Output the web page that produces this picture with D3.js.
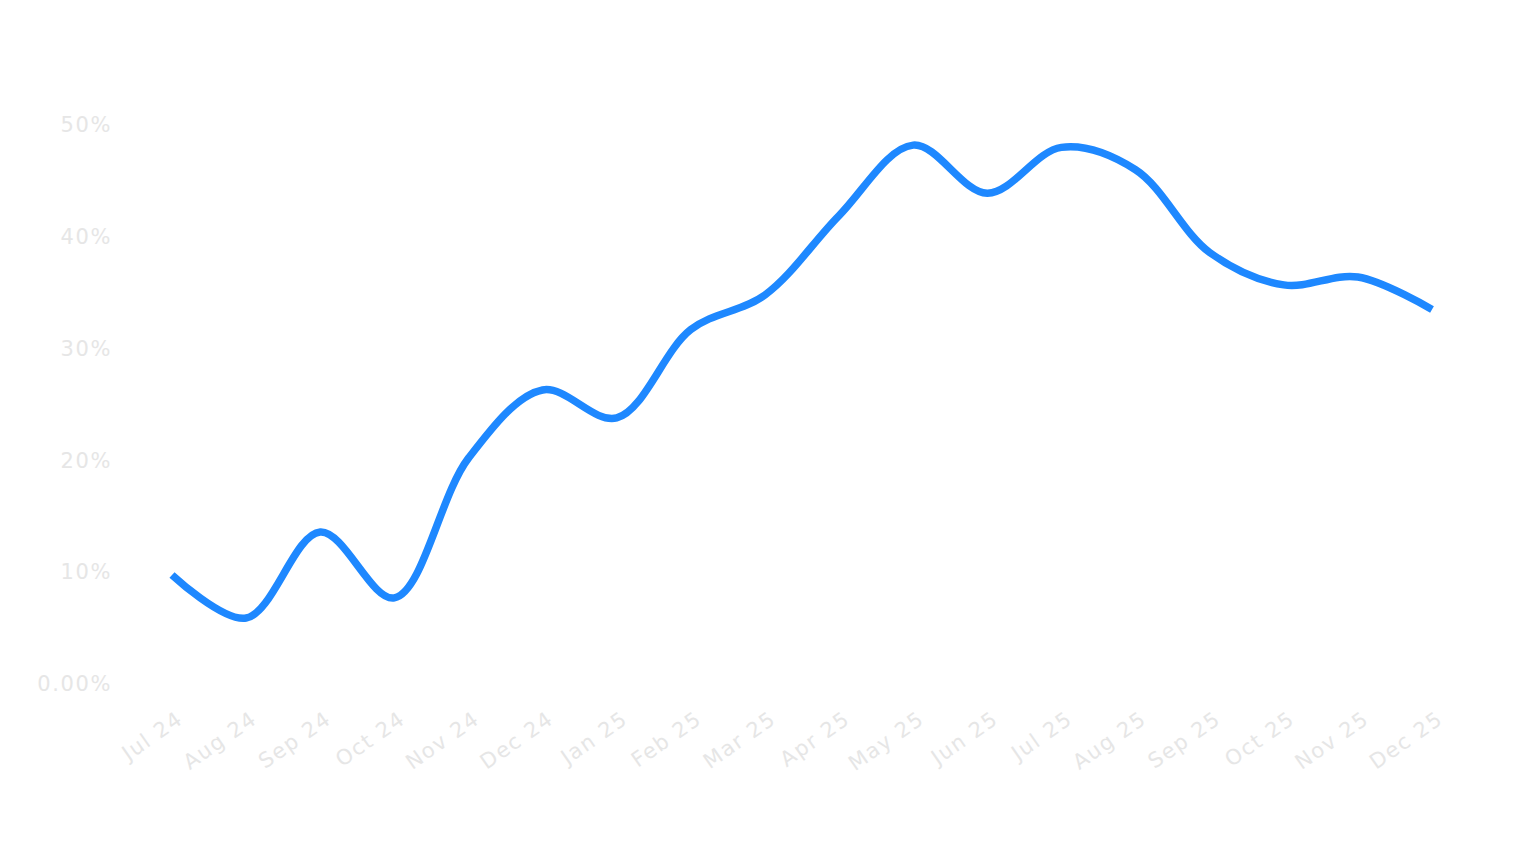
<!DOCTYPE html>
<html>
<head>
<meta charset="utf-8">
<script src="https://cdn.jsdelivr.net/npm/d3@7"></script>
<style>
	html, body { margin: 0; padding: 0; background: #fff; }
	svg { display: block; }
	.tick text { font-family: "DejaVu Sans", sans-serif; letter-spacing: 1.6px; }
</style>
</head>
<body>
<svg id="chart" width="1536" height="864"></svg>
<script>
(function(d3){
	const months = ["Jul 24","Aug 24","Sep 24","Oct 24","Nov 24","Dec 24","Jan 25","Feb 25","Mar 25",
		"Apr 25","May 25","Jun 25","Jul 25","Aug 25","Sep 25","Oct 25","Nov 25","Dec 25"];
	const values = [9.75, 5.9, 13.6, 7.7, 20.2, 26.3, 23.8, 31.7, 34.8,
		41.9, 48.2, 43.9, 48.0, 46.0, 38.6, 35.7, 36.4, 33.5];
	const yTicks = [0, 10, 20, 30, 40, 50];

	const labelColor = "#e6e6e6";
	let svg = d3.select("#chart");

	var x = d3.scalePoint()
		.domain(months)
		.range([172, 1432]);

	var y = d3.scaleLinear()
		.domain([0, 50])
		.range([684, 125]);

	// y axis, labels only
	var yAxis = svg.append("g")
		.attr("transform", "translate(112,0)")
		.call(d3.axisLeft(y)
			.tickValues(yTicks)
			.tickSize(0)
			.tickPadding(0)
			.tickFormat(d => d === 0 ? "0.00%" : d + "%"));
	yAxis.select(".domain").remove();
	yAxis.selectAll("text")
		.attr("fill", labelColor)
		.style("font-size", "21px");

	// x axis, rotated labels
	var xAxis = svg.append("g")
		.attr("transform", "translate(0,708)")
		.call(d3.axisBottom(x).tickSize(0).tickPadding(0));
	xAxis.select(".domain").remove();
	xAxis.selectAll("text")
		.attr("fill", labelColor)
		.style("font-size", "21px")
		.attr("text-anchor", "end")
		.attr("dy", 0)
		.attr("y", 0)
		.attr("transform", "translate(12,14) rotate(-35)");

	var line = d3.line()
		.x((d, i) => x(months[i]))
		.y(d => y(d))
		.curve(d3.curveCatmullRom.alpha(0.5));

	svg.append("path")
		.datum(values)
		.attr("fill", "none")
		.attr("stroke", "#1e88ff")
		.attr("stroke-width", 7.5)
		.attr("stroke-linejoin", "round")
		.attr("d", line);
}(d3));
</script>
</body>
</html>
